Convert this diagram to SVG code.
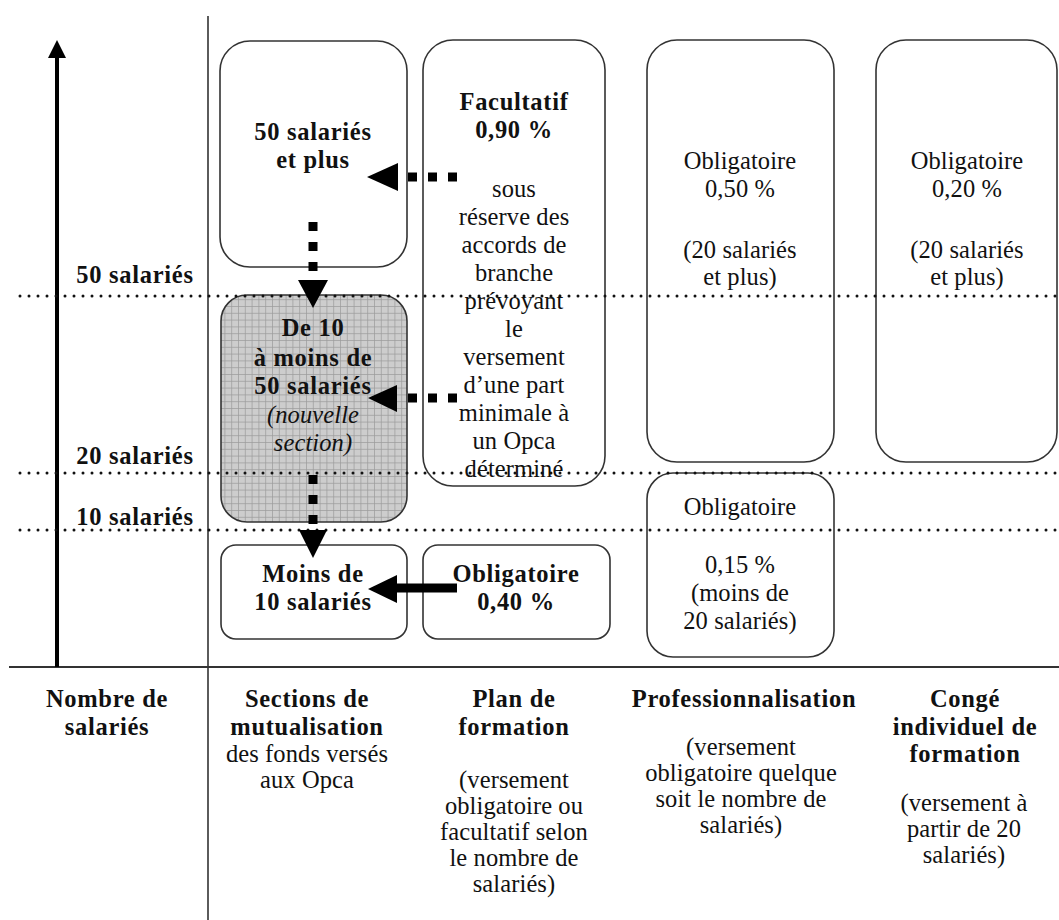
<svg xmlns="http://www.w3.org/2000/svg" width="1059" height="920" viewBox="0 0 1059 920">
<defs>
<pattern id="grid" width="6.8" height="6.8" patternUnits="userSpaceOnUse">
<rect width="6.8" height="6.8" fill="#cdcdcd"/>
<path d="M0 0.4H6.8M0.4 0V6.8" stroke="#9c9c9c" stroke-width="0.8" fill="none"/>
</pattern>
<style>
.box{fill:#fff;stroke:#333;stroke-width:1.6}
.t{font-family:"Liberation Serif","Times New Roman",serif;font-size:24.5px;fill:#111;text-anchor:middle;letter-spacing:0.1px}
.b{font-weight:bold;letter-spacing:0.7px}
.i{font-style:italic}
.dot{stroke:#111;stroke-width:3;stroke-linecap:round;stroke-dasharray:0 9;fill:none}
.dash{stroke:#000;stroke-width:9;stroke-dasharray:9 11;fill:none}
.head{fill:#000}
</style>
</defs>
<rect width="1059" height="920" fill="#fff"/>

<g id="frame">
<line x1="208" y1="16" x2="208" y2="920" stroke="#333" stroke-width="1.6"/>
<line x1="9" y1="667" x2="1059" y2="667" stroke="#333" stroke-width="2"/>
<line x1="57" y1="667" x2="57" y2="55" stroke="#000" stroke-width="4"/>
<polygon points="57,40 48,58 66,58" fill="#000"/>
</g>

<g id="box-50plus"><rect class="box" x="220" y="41" width="187" height="226" rx="30"/></g>
<g id="box-10-50"><rect x="221" y="295" width="186" height="227" rx="26" fill="url(#grid)" stroke="#333" stroke-width="1.6"/></g>
<g id="box-moins10"><rect class="box" x="221" y="545" width="186" height="94" rx="15"/></g>
<g id="box-facultatif"><rect class="box" x="423" y="40" width="182" height="446" rx="30"/></g>
<g id="box-oblig040"><rect class="box" x="423" y="545" width="187" height="94" rx="15"/></g>
<g id="box-oblig050"><rect class="box" x="647" y="40" width="187" height="422" rx="30"/></g>
<g id="box-oblig020"><rect class="box" x="876" y="40" width="181" height="422" rx="30"/></g>
<g id="box-oblig015"><rect class="box" x="647" y="473" width="187" height="184" rx="26"/></g>

<g id="thresholds">
<line class="dot" x1="20" y1="296" x2="1059" y2="296"/>
<line class="dot" x1="20" y1="473" x2="1059" y2="473"/>
<line class="dot" x1="20" y1="530" x2="1059" y2="530"/>
</g>

<g id="connectors">
<line class="dash" x1="457" y1="177" x2="398" y2="177"/>
<polygon class="head" points="367,177 398,163 398,191"/>
<line class="dash" x1="313" y1="222" x2="313" y2="281"/>
<polygon class="head" points="313,308 298,280 328,280"/>
<line class="dash" x1="457" y1="398" x2="397" y2="398"/>
<polygon class="head" points="368,398 397,385 397,412"/>
<line class="dash" x1="313" y1="475" x2="313" y2="531"/>
<polygon class="head" points="313,558 299,530 327,530"/>
<line x1="457" y1="588" x2="395" y2="588" stroke="#000" stroke-width="9"/>
<polygon class="head" points="368,589 397,575 397,603"/>
</g>

<g id="labels">
<text class="t b" x="135" y="283">50 salariés</text>
<text class="t b" x="135" y="464">20 salariés</text>
<text class="t b" x="135" y="525">10 salariés</text>

<text class="t b" x="313" y="140">50 salariés</text>
<text class="t b" x="313" y="168">et plus</text>

<text class="t b" x="313" y="336">De 10</text>
<text class="t b" x="313" y="366">à moins de</text>
<text class="t b" x="313" y="394">50 salariés</text>
<text class="t i" x="313" y="423">(nouvelle</text>
<text class="t i" x="313" y="451">section)</text>

<text class="t b" x="313" y="582">Moins de</text>
<text class="t b" x="313" y="610">10 salariés</text>

<text class="t b" x="514" y="110">Facultatif</text>
<text class="t b" x="514" y="138">0,90 %</text>
<text class="t" x="514" y="197">sous</text>
<text class="t" x="514" y="225">réserve des</text>
<text class="t" x="514" y="253">accords de</text>
<text class="t" x="514" y="281">branche</text>
<text class="t" x="514" y="309">prévoyant</text>
<text class="t" x="514" y="337">le</text>
<text class="t" x="514" y="365">versement</text>
<text class="t" x="514" y="393">d’une part</text>
<text class="t" x="514" y="421">minimale à</text>
<text class="t" x="514" y="449">un Opca</text>
<text class="t" x="514" y="477">déterminé</text>

<text class="t b" x="516" y="582">Obligatoire</text>
<text class="t b" x="516" y="610">0,40 %</text>

<text class="t" x="740" y="169">Obligatoire</text>
<text class="t" x="740" y="197">0,50 %</text>
<text class="t" x="740" y="258">(20 salariés</text>
<text class="t" x="740" y="285">et plus)</text>

<text class="t" x="967" y="169">Obligatoire</text>
<text class="t" x="967" y="197">0,20 %</text>
<text class="t" x="967" y="258">(20 salariés</text>
<text class="t" x="967" y="285">et plus)</text>

<text class="t" x="740" y="515">Obligatoire</text>
<text class="t" x="740" y="573">0,15 %</text>
<text class="t" x="740" y="601">(moins de</text>
<text class="t" x="740" y="629">20 salariés)</text>
</g>

<g id="column-headers">
<text class="t b" x="107" y="707">Nombre de</text>
<text class="t b" x="107" y="735">salariés</text>

<text class="t b" x="307" y="707">Sections de</text>
<text class="t b" x="307" y="735">mutualisation</text>
<text class="t" x="307" y="762">des fonds versés</text>
<text class="t" x="307" y="788">aux Opca</text>

<text class="t b" x="514" y="707">Plan de</text>
<text class="t b" x="514" y="735">formation</text>
<text class="t" x="514" y="788">(versement</text>
<text class="t" x="514" y="814">obligatoire ou</text>
<text class="t" x="514" y="840">facultatif selon</text>
<text class="t" x="514" y="866">le nombre de</text>
<text class="t" x="514" y="892">salariés)</text>

<text class="t b" x="744" y="707">Professionnalisation</text>
<text class="t" x="741" y="755">(versement</text>
<text class="t" x="741" y="781">obligatoire quelque</text>
<text class="t" x="741" y="807">soit le nombre de</text>
<text class="t" x="741" y="833">salariés)</text>

<text class="t b" x="965" y="707">Congé</text>
<text class="t b" x="965" y="735">individuel de</text>
<text class="t b" x="965" y="762">formation</text>
<text class="t" x="964" y="811">(versement à</text>
<text class="t" x="964" y="837">partir de 20</text>
<text class="t" x="964" y="863">salariés)</text>
</g>
</svg>
